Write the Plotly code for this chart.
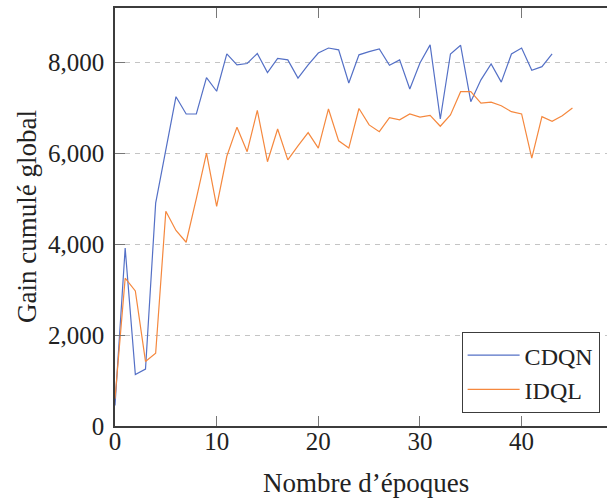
import plotly.graph_objects as go

# Cumulative global gain per training epoch for both agents
epochs_cdqn = list(range(44))
gain_cdqn = [450, 3910, 1130, 1250, 4900, 6050, 7240, 6860, 6860, 7660,
             7360, 8180, 7940, 7970, 8190, 7770, 8080, 8050, 7650, 7940,
             8200, 8310, 8270, 7540, 8160, 8230, 8290, 7930, 8050, 7410,
             7980, 8380, 6750, 8180, 8370, 7130, 7610, 7960, 7560, 8180,
             8310, 7820, 7900, 8180]

epochs_idql = list(range(46))
gain_idql = [600, 3250, 2970, 1420, 1600, 4720, 4300, 4040, 5000, 6000,
             4830, 5930, 6570, 6030, 6940, 5810, 6530, 5850, 6160, 6450,
             6110, 6970, 6270, 6110, 6980, 6620, 6470, 6780, 6730, 6860,
             6790, 6830, 6590, 6840, 7350, 7350, 7100, 7120, 7040, 6910,
             6860, 5890, 6800, 6700, 6820, 6990]

x_ticks = [0, 10, 20, 30, 40]
y_ticks = [0, 2000, 4000, 6000, 8000]

FONT = "Liberation Serif"
TEXT = "#222222"
FRAME = "#3c3c3c"

# plot-area geometry in pixels
W, H = 607, 499
ML, MR, MT, MB = 115, 0, 8, 73
plot_w = W - ML - MR
plot_h = H - MT - MB


def px_to_paper(px, py):
    return (px - ML) / plot_w, (H - MB - py) / plot_h


fig = go.Figure()
fig.add_trace(go.Scatter(x=epochs_cdqn, y=gain_cdqn, mode="lines", name="CDQN",
                         line=dict(color="#5470c6", width=1.2)))
fig.add_trace(go.Scatter(x=epochs_idql, y=gain_idql, mode="lines", name="IDQL",
                         line=dict(color="#f5883e", width=1.2)))

xt_x, xt_y = px_to_paper(366, 483)
yt_x, yt_y = px_to_paper(27, 217)

fig.update_layout(
    width=W, height=H, autosize=False,
    margin=dict(l=ML, r=MR, t=MT, b=MB, autoexpand=False),
    paper_bgcolor="white", plot_bgcolor="white",
    font=dict(family=FONT, size=25, color=TEXT),
    showlegend=True,
    legend=dict(x=0.985, y=0.031, xanchor="right", yanchor="bottom",
                bgcolor="white", bordercolor=FRAME, borderwidth=1,
                font=dict(family=FONT, size=24, color=TEXT),
                tracegroupgap=0, itemwidth=52),
    annotations=[
        dict(text="Nombre d’époques", x=xt_x, y=xt_y, xref="paper", yref="paper",
             xanchor="center", yanchor="middle", showarrow=False,
             font=dict(family=FONT, size=27, color=TEXT)),
        dict(text="Gain cumulé global", x=yt_x, y=yt_y, xref="paper", yref="paper",
             xanchor="center", yanchor="middle", showarrow=False, textangle=-90,
             font=dict(family=FONT, size=27, color=TEXT)),
    ],
)

fig.update_xaxes(
    range=[0, 48.4], tickvals=x_ticks, ticktext=[str(v) for v in x_ticks],
    showgrid=False, zeroline=False,
    showline=True, linecolor=FRAME, linewidth=1.5, mirror="ticks",
    ticks="inside", ticklen=10, tickcolor="#777777", tickwidth=1,
    ticklabelstandoff=-8, tickfont=dict(family=FONT, size=25, color=TEXT),
)
fig.update_yaxes(
    range=[0, 9190], tickvals=y_ticks, tickformat=",d",
    showgrid=True, gridcolor="#c4c4c4", gridwidth=1, griddash="5px,5px",
    zeroline=False,
    showline=True, linecolor=FRAME, linewidth=1.5,
    ticks="inside", ticklen=10, tickcolor="#777777", tickwidth=1,
    ticklabelstandoff=4, tickfont=dict(family=FONT, size=25, color=TEXT),
)

fig.write_html("out.html")
